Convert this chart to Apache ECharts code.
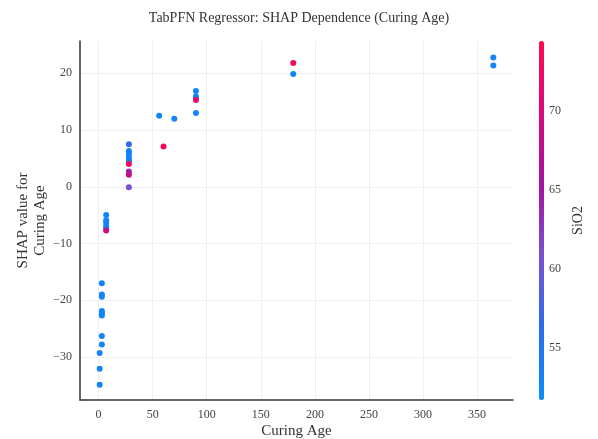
<!DOCTYPE html>
<html>
<head>
<meta charset="utf-8">
<script src="https://cdn.jsdelivr.net/npm/echarts@6/dist/echarts.min.js"></script>
<style>
  html, body { margin: 0; padding: 0; background: #fff; }
  #chart { width: 598px; height: 439px; }
</style>
</head>
<body>
<div id="chart"></div>
<script>
// SHAP dependence of Curing Age, coloured by SiO2 content
const curingAge = [
  1, 1, 1,
  3, 3, 3, 3, 3, 3, 3, 3,
  7, 7, 7, 7, 7, 7,
  28, 28, 28, 28, 28, 28, 28, 28, 28, 28,
  56, 60, 70,
  90, 90, 90, 90, 90,
  180, 180,
  365, 365
];
const shapValue = [
  -29.3, -32.1, -34.9,
  -17.0, -19.0, -19.4, -21.9, -22.3, -22.7, -26.3, -27.8,
  -5.0, -5.9, -6.3, -6.9, -7.3, -7.7,
  7.5, 6.3, 5.9, 5.3, 4.8, 4.5, 4.0, 2.7, 2.1, -0.1,
  12.5, 7.1, 12.0,
  16.9, 15.9, 15.5, 15.3, 13.0,
  21.8, 19.9,
  22.8, 21.4
];
const sio2 = [
  53, 53, 53,
  53, 53, 53, 53, 53, 53, 53, 53,
  53, 53, 53, 53, 53, 69,
  57, 53, 53, 53, 54, 53, 73, 64, 68, 61,
  53, 73, 53,
  53, 53, 53, 72, 53,
  73, 53,
  53, 53
];
const colorbarTicks = [55, 60, 65, 70];
const sio2Range = [51.7, 74.4];

const points = curingAge.map((x, i) => [x, shapValue[i], sio2[i]]);

const serif = '"Liberation Serif", "DejaVu Serif", serif';
const withMinus = v => String(v).replace('-', '\u2212');
const chart = echarts.init(document.getElementById('chart'), null, { renderer: 'canvas' });

chart.setOption({
  backgroundColor: '#ffffff',
  animation: false,
  title: {
    text: 'TabPFN Regressor: SHAP Dependence (Curing Age)',
    left: 'center',
    top: 6,
    textStyle: { fontFamily: serif, fontSize: 14, fontWeight: 'normal', color: '#333' }
  },
  grid: [
    { left: 80, right: 85, top: 41, bottom: 39, outerBoundsMode: 'none', containLabel: false },
    { left: 539, width: 5, top: 41, height: 359, outerBoundsMode: 'none', containLabel: false }
  ],
  xAxis: [
    {
      gridIndex: 0,
      type: 'value',
      min: -17.2,
      max: 383.2,
      splitNumber: 8,
      name: 'Curing Age',
      nameLocation: 'middle',
      nameGap: 24,
      nameMoveOverlap: false,
      nameTextStyle: { fontFamily: serif, fontSize: 15, color: '#333' },
      axisLine: { show: true, onZero: false, lineStyle: { color: '#333', width: 1.5 } },
      axisTick: { show: false },
      axisLabel: { fontFamily: serif, fontSize: 12, color: '#444', margin: 9,
                   showMinLabel: false, showMaxLabel: false },
      splitLine: { show: true, showMinLine: false, showMaxLine: false,
                   lineStyle: { color: '#efefef', width: 1 } }
    },
    { gridIndex: 1, type: 'value', show: false, min: 0, max: 1 }
  ],
  yAxis: [
    {
      gridIndex: 0,
      type: 'value',
      min: -37.6,
      max: 25.7,
      splitNumber: 6,
      name: 'SHAP value for\nCuring Age',
      nameLocation: 'middle',
      nameGap: 31,
      nameMoveOverlap: false,
      nameTextStyle: { fontFamily: serif, fontSize: 15, color: '#333', lineHeight: 17 },
      axisLine: { show: true, onZero: false, lineStyle: { color: '#333', width: 1.5 } },
      axisTick: { show: false },
      axisLabel: { fontFamily: serif, fontSize: 12, color: '#444', margin: 8,
                   showMinLabel: false, showMaxLabel: false, formatter: withMinus },
      splitLine: { show: true, showMinLine: false, showMaxLine: false,
                   lineStyle: { color: '#efefef', width: 1 } }
    },
    {
      gridIndex: 1,
      type: 'value',
      position: 'right',
      min: sio2Range[0],
      max: sio2Range[1],
      splitNumber: 5,
      name: 'SiO2',
      nameLocation: 'middle',
      nameGap: 27,
      nameMoveOverlap: false,
      nameRotate: 90,
      nameTextStyle: { fontFamily: serif, fontSize: 14, color: '#333' },
      axisLine: { show: false },
      axisTick: { show: false },
      splitLine: { show: false },
      axisLabel: {
        fontFamily: serif, fontSize: 12, color: '#444', margin: 5,
        showMinLabel: false, showMaxLabel: false,
        formatter: v => (colorbarTicks.indexOf(v) >= 0 ? String(v) : '')
      }
    }
  ],
  visualMap: {
    type: 'continuous',
    seriesIndex: 0,
    dimension: 2,
    min: sio2Range[0],
    max: sio2Range[1],
    calculable: false,
    orient: 'vertical',
    left: 539,
    top: 41,
    padding: 0,
    itemWidth: 5,
    itemHeight: 359,
    text: null,
    inRange: {
      color: ['#0a8efc', '#2a6cee', '#7a52d2', '#a2149f', '#d80a7c', '#ff0a52']
    }
  },
  series: [
    {
      type: 'scatter',
      xAxisIndex: 0,
      yAxisIndex: 0,
      symbol: 'circle',
      symbolSize: 6,
      data: points,
      itemStyle: { opacity: 1 }
    }
  ]
});
</script>
</body>
</html>
